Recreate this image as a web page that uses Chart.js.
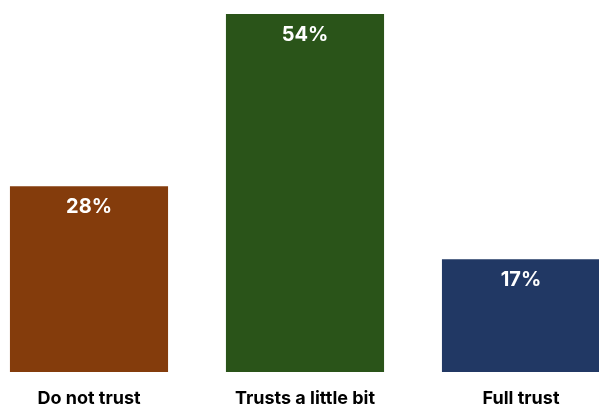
<!DOCTYPE html>
<html>
<head>
<meta charset="utf-8">
<script src="https://cdn.jsdelivr.net/npm/chart.js@4"></script>
<style>
  html, body { margin: 0; padding: 0; background: #fff; }
  #wrap { width: 599px; height: 405px; overflow: hidden; position: relative; }
  #chart { position: absolute; left: -19px; top: 0; }
</style>
</head>
<body>
<div id="wrap"><canvas id="chart" width="648" height="405"></canvas></div>
<script>
const categories = ['Do not trust', 'Trusts a little bit', 'Full trust'];
const shares = [28, 54, 17];
const barColors = ['#843c0c', '#2a5419', '#213864'];

document.addEventListener("DOMContentLoaded", function() {
    const ctx = document.getElementById('chart').getContext('2d');

    // percentage written inside the top of each bar
    const valueLabels = {
        id: 'valueLabels',
        afterDatasetsDraw: (chart) => {
            const c = chart.ctx;
            c.save();
            c.font = 'bold 20px Inter';
            c.fillStyle = '#ffffff';
            c.textAlign = 'center';
            c.textBaseline = 'middle';
            chart.getDatasetMeta(0).data.forEach((bar, i) => {
                c.fillText(shares[i] + '%', bar.x, bar.y + 21);
            });
            c.restore();
        }
    };

    new Chart(ctx, {
        type: 'bar',
        plugins: [valueLabels],
        data: {
            labels: categories,
            datasets: [{
                data: shares,
                backgroundColor: barColors,
                borderWidth: 0,
                categoryPercentage: 1,
                barPercentage: 0.732
            }]
        },
        options: {
            responsive: false,
            animation: false,
            layout: { padding: { top: 14, left: 0, right: 0, bottom: 0 } },
            plugins: {
                legend: { display: false },
                tooltip: { enabled: false }
            },
            scales: {
                y: { display: false, min: 0, max: 54 },
                x: {
                    grid: { display: false },
                    border: { display: false },
                    afterFit: (scale) => { scale.height = 33; },
                    ticks: {
                        color: '#000',
                        padding: 8,
                        maxRotation: 0,
                        font: { family: 'Inter', size: 18, weight: 'bold' }
                    }
                }
            }
        }
    });
});
</script>
</body>
</html>
